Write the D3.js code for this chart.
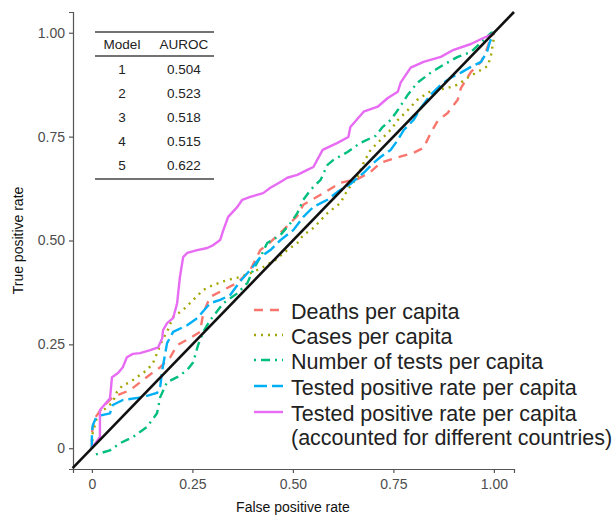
<!DOCTYPE html>
<html>
<head>
<meta charset="utf-8">
<script src="https://cdn.jsdelivr.net/npm/d3@7"></script>
<style>
  body { margin: 0; background: #fff; }
  svg { display: block; font-family: "Liberation Sans", Arial, sans-serif; }
</style>
</head>
<body>
<div id="chart"></div>
<script>
// Reference ROC curves: [false positive rate, true positive rate]
const deathsPerCapita = [
  [0, 0], [0, 0.036], [0.002, 0.048], [0.007, 0.072], [0.027, 0.099], [0.052, 0.123],
  [0.095, 0.14], [0.127, 0.164], [0.15, 0.181], [0.17, 0.195], [0.195, 0.219],
  [0.212, 0.248], [0.244, 0.265], [0.269, 0.28], [0.277, 0.325], [0.294, 0.364],
  [0.327, 0.381], [0.362, 0.398], [0.394, 0.429], [0.419, 0.477], [0.444, 0.496],
  [0.476, 0.525], [0.511, 0.559], [0.526, 0.586], [0.576, 0.614], [0.618, 0.639],
  [0.661, 0.648], [0.693, 0.665], [0.718, 0.687], [0.756, 0.699], [0.8, 0.711],
  [0.825, 0.723], [0.843, 0.759], [0.86, 0.788], [0.885, 0.807], [0.91, 0.839],
  [0.918, 0.867], [0.943, 0.906], [0.968, 0.93], [0.98, 0.954], [0.993, 0.99], [1, 1]
];
const casesPerCapita = [
  [0, 0], [0.002, 0.036], [0.012, 0.072], [0.02, 0.084], [0.052, 0.111], [0.062, 0.135],
  [0.077, 0.152], [0.095, 0.159], [0.112, 0.171], [0.137, 0.188], [0.152, 0.205],
  [0.165, 0.236], [0.175, 0.26], [0.187, 0.28], [0.202, 0.316], [0.227, 0.333],
  [0.252, 0.357], [0.277, 0.381], [0.302, 0.393], [0.337, 0.405], [0.369, 0.412],
  [0.401, 0.424], [0.426, 0.436], [0.456, 0.453], [0.486, 0.477], [0.511, 0.494],
  [0.526, 0.513], [0.551, 0.53], [0.586, 0.566], [0.618, 0.59], [0.636, 0.622],
  [0.661, 0.653], [0.676, 0.687], [0.693, 0.718], [0.718, 0.742], [0.743, 0.766],
  [0.761, 0.79], [0.786, 0.814], [0.81, 0.839], [0.843, 0.86], [0.885, 0.867],
  [0.91, 0.875], [0.935, 0.892], [0.96, 0.906], [0.985, 0.92], [0.993, 0.947],
  [1, 0.988], [1, 1]
];
const testsPerCapita = [
  [0.01, -0.015], [0.045, -0.005], [0.07, 0.012], [0.102, 0.027], [0.137, 0.051],
  [0.162, 0.084], [0.17, 0.123], [0.187, 0.159], [0.212, 0.171], [0.237, 0.188],
  [0.252, 0.207], [0.264, 0.248], [0.277, 0.28], [0.294, 0.308], [0.327, 0.349],
  [0.362, 0.373], [0.387, 0.398], [0.401, 0.429], [0.419, 0.46], [0.436, 0.494],
  [0.469, 0.513], [0.494, 0.542], [0.511, 0.566], [0.526, 0.598], [0.544, 0.622],
  [0.569, 0.646], [0.586, 0.682], [0.601, 0.694], [0.636, 0.713], [0.668, 0.735],
  [0.706, 0.752], [0.723, 0.773], [0.743, 0.79], [0.761, 0.814], [0.786, 0.851],
  [0.81, 0.88], [0.843, 0.904], [0.875, 0.923], [0.91, 0.942], [0.943, 0.954],
  [0.975, 0.983], [0.993, 1], [1, 1]
];
const testedPositive = [
  [0, 0], [0, 0.036], [0.002, 0.055], [0.012, 0.077], [0.045, 0.084], [0.052, 0.104],
  [0.077, 0.116], [0.127, 0.123], [0.162, 0.133], [0.17, 0.149], [0.175, 0.188],
  [0.187, 0.253], [0.202, 0.28], [0.237, 0.296], [0.262, 0.313], [0.294, 0.349],
  [0.319, 0.357], [0.344, 0.369], [0.369, 0.402], [0.394, 0.429], [0.419, 0.46],
  [0.444, 0.477], [0.469, 0.501], [0.501, 0.525], [0.526, 0.557], [0.551, 0.581],
  [0.586, 0.598], [0.611, 0.617], [0.643, 0.636], [0.676, 0.663], [0.701, 0.687],
  [0.718, 0.701], [0.743, 0.718], [0.761, 0.742], [0.776, 0.766], [0.8, 0.79],
  [0.818, 0.819], [0.843, 0.851], [0.868, 0.875], [0.893, 0.892], [0.918, 0.904],
  [0.943, 0.918], [0.968, 0.93], [0.983, 0.954], [0.99, 0.978], [1, 1]
];
const testedPositiveCountries = [
  [0, 0], [0.02, 0.027], [0.02, 0.092], [0.045, 0.12], [0.05, 0.171], [0.065, 0.181],
  [0.077, 0.195], [0.087, 0.219], [0.102, 0.227], [0.12, 0.229], [0.145, 0.236],
  [0.165, 0.243], [0.175, 0.265], [0.177, 0.284], [0.187, 0.301], [0.202, 0.313],
  [0.212, 0.349], [0.219, 0.412], [0.227, 0.46], [0.237, 0.47], [0.262, 0.477],
  [0.287, 0.482], [0.302, 0.489], [0.319, 0.501], [0.327, 0.525], [0.339, 0.557],
  [0.362, 0.581], [0.374, 0.598], [0.394, 0.605], [0.426, 0.614], [0.444, 0.627],
  [0.469, 0.641], [0.486, 0.651], [0.511, 0.658], [0.536, 0.67], [0.551, 0.677],
  [0.574, 0.718], [0.611, 0.735], [0.638, 0.749], [0.643, 0.773], [0.676, 0.81],
  [0.711, 0.822], [0.736, 0.843], [0.761, 0.858], [0.768, 0.88], [0.793, 0.916],
  [0.825, 0.93], [0.868, 0.942], [0.9, 0.959], [0.943, 0.973], [0.975, 0.988],
  [0.993, 0.995], [1, 1]
];

const seriesNames = [
  ['Deaths per capita'],
  ['Cases per capita'],
  ['Number of tests per capita'],
  ['Tested positive rate per capita'],
  ['Tested positive rate per capita', '(accounted for different countries)']
];
const seriesData = [deathsPerCapita, casesPerCapita, testsPerCapita, testedPositive, testedPositiveCountries];
const seriesColors = ['#F8766D', '#A3A500', '#00BF7D', '#00B0F6', '#E76BF3'];
const seriesDash = ['9 7', '2 5', '2 5 9 5', '13 5', null];

const modelIds = ['1', '2', '3', '4', '5'];
const aurocValues = ['0.504', '0.523', '0.518', '0.515', '0.622'];

const tickValues = [0, 0.25, 0.5, 0.75, 1];
const tickLabel = (d) => (d === 0 ? '0' : d.toFixed(2));

const width = 615;
const height = 517;

const svg = d3.select('#chart').append('svg').attr('width', width).attr('height', height);

// Scales: panel runs a little past 0..1 on both sides like ggplot's expansion
const x = d3.scaleLinear().domain([-0.047, 1.05]).range([73, 514]);
const y = d3.scaleLinear().domain([-0.05, 1.05]).range([469, 12]);

const axisColor = '#555';
const tickColor = '#4d4d4d';

// X axis
svg
  .append('g')
  .attr('transform', `translate(0,${y(-0.05)})`)
  .call(d3.axisBottom(x).tickValues(tickValues).tickFormat(tickLabel).tickSizeOuter(0).tickSize(4).tickPadding(6))
  .call((g) => g.select('.domain').attr('stroke', axisColor).attr('stroke-width', 1.2))
  .call((g) => g.selectAll('.tick line').attr('stroke', axisColor).attr('stroke-width', 1.2))
  .call((g) =>
    g.selectAll('.tick text').attr('fill', tickColor).attr('font-size', 14).attr('font-family', null)
  );

// Y axis
svg
  .append('g')
  .attr('transform', `translate(${x(-0.047)},0)`)
  .call(d3.axisLeft(y).tickValues(tickValues).tickFormat(tickLabel).tickSizeOuter(0).tickSize(4).tickPadding(4))
  .call((g) => g.select('.domain').attr('stroke', axisColor).attr('stroke-width', 1.2))
  .call((g) => g.selectAll('.tick line').attr('stroke', axisColor).attr('stroke-width', 1.2))
  .call((g) =>
    g.selectAll('.tick text').attr('fill', tickColor).attr('font-size', 14).attr('font-family', null)
  );

// Axis titles
svg
  .append('text')
  .attr('x', x(0.5))
  .attr('y', 507)
  .attr('text-anchor', 'middle')
  .attr('dominant-baseline', 'central')
  .attr('font-size', 14)
  .attr('fill', '#111')
  .text('False positive rate');

svg
  .append('text')
  .attr('transform', `translate(18,${y(0.5)}) rotate(-90)`)
  .attr('text-anchor', 'middle')
  .attr('dominant-baseline', 'central')
  .attr('font-size', 14)
  .attr('fill', '#111')
  .text('True positive rate');

// ROC curves
const line = d3
  .line()
  .x((d) => x(d[0]))
  .y((d) => y(d[1]));

svg
  .append('g')
  .selectAll('path')
  .data(seriesData)
  .join('path')
  .attr('fill', 'none')
  .attr('stroke', (_, i) => seriesColors[i])
  .attr('stroke-width', 2.4)
  .attr('stroke-dasharray', (_, i) => seriesDash[i])
  .attr('stroke-linejoin', 'round')
  .attr('d', line);

// Reference diagonal
const lo = -0.048;
const hi = 1.05;
svg
  .append('path')
  .attr('fill', 'none')
  .attr('stroke', '#111')
  .attr('stroke-width', 2.6)
  .attr('d', line([[lo, lo], [hi, hi]]));

// AUROC table
const table = svg.append('g').attr('font-size', 13.5).attr('fill', '#222');
const colModel = 122;
const colAuroc = 184;
const rowY = d3.scalePoint().domain(modelIds).range([69, 165]);

[32, 56, 179].forEach((ry) => {
  table
    .append('line')
    .attr('x1', 95)
    .attr('x2', 214)
    .attr('y1', ry)
    .attr('y2', ry)
    .attr('stroke', '#444')
    .attr('stroke-width', 1.4);
});

table
  .append('text')
  .attr('x', colModel)
  .attr('y', 44)
  .attr('text-anchor', 'middle')
  .attr('dominant-baseline', 'central')
  .text('Model');
table
  .append('text')
  .attr('x', colAuroc)
  .attr('y', 44)
  .attr('text-anchor', 'middle')
  .attr('dominant-baseline', 'central')
  .text('AUROC');

table
  .selectAll('.model')
  .data(modelIds)
  .join('text')
  .attr('class', 'model')
  .attr('x', colModel)
  .attr('y', (d) => rowY(d))
  .attr('text-anchor', 'middle')
  .attr('dominant-baseline', 'central')
  .text((d) => d);

table
  .selectAll('.auroc')
  .data(aurocValues)
  .join('text')
  .attr('class', 'auroc')
  .attr('x', colAuroc)
  .attr('y', (_, i) => rowY(modelIds[i]))
  .attr('text-anchor', 'middle')
  .attr('dominant-baseline', 'central')
  .text((d) => d);

// Legend
const legendRows = [312, 337, 362, 388, 414];
const legend = svg.append('g').attr('font-size', 21.5).attr('fill', '#222');

seriesNames.forEach((names, i) => {
  const ly = legendRows[i];
  legend
    .append('line')
    .attr('x1', 254)
    .attr('x2', 283)
    .attr('y1', ly - 2)
    .attr('y2', ly - 2)
    .attr('stroke', seriesColors[i])
    .attr('stroke-width', 2.4)
    .attr('stroke-dasharray', seriesDash[i]);

  names.forEach((name, j) => {
    legend
      .append('text')
      .attr('x', 291)
      .attr('y', ly + j * 24)
      .attr('dominant-baseline', 'central')
      .text(name);
  });
});
</script>
</body>
</html>
